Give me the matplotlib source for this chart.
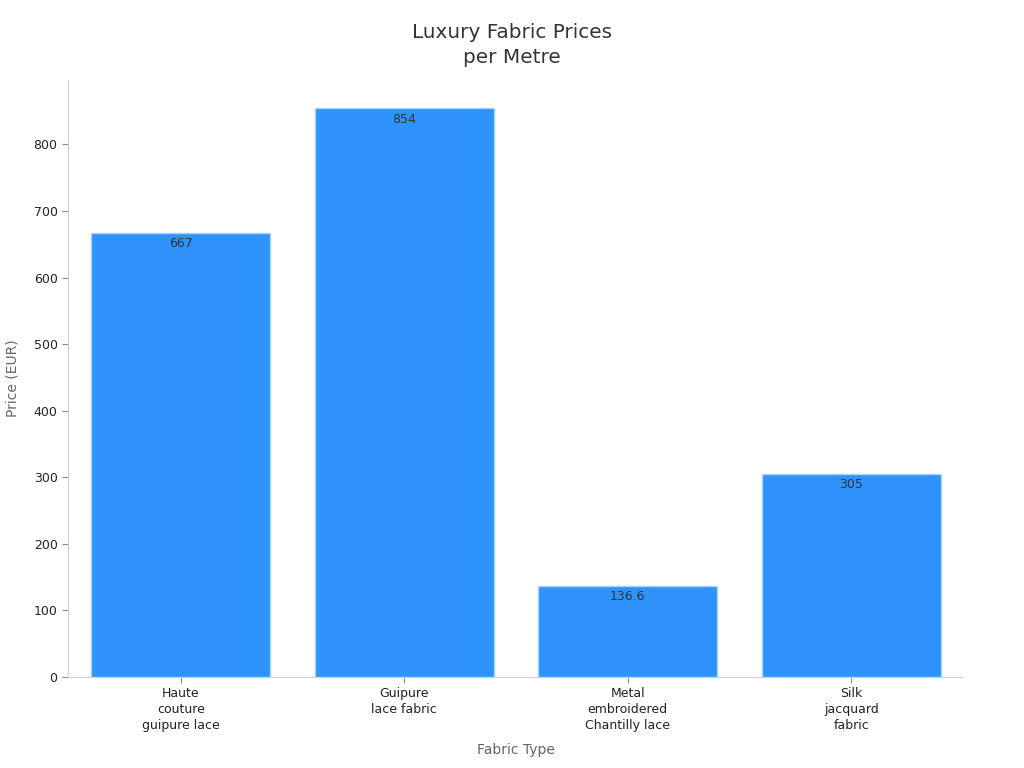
import matplotlib
matplotlib.use("Agg")
import matplotlib.pyplot as plt

fabrics = ["Haute\ncouture\nguipure lace", "Guipure\nlace fabric",
           "Metal\nembroidered\nChantilly lace", "Silk\njacquard\nfabric"]
prices = [667, 854, 136.6, 305]
value_labels = ["667", "854", "136.6", "305"]

fig = plt.figure(figsize=(10.24, 7.68), dpi=100)
ax = fig.add_axes([0.0664, 0.1185, 0.874, 0.7775])

x = range(len(fabrics))
bars = ax.bar(x, prices, width=0.8, color="#2E93FA", edgecolor="#A8D2FC", linewidth=1)

for b, lab in zip(bars, value_labels):
    ax.annotate(lab, (b.get_x() + b.get_width() / 2, b.get_height()),
                xytext=(0, -3), textcoords="offset points", ha="center", va="top",
                fontsize=9, color="#333333")

ax.set_xlim(-0.505, 3.5)
ax.set_ylim(0, 897)
ax.set_xticks(list(x))
ax.set_xticklabels(fabrics, fontsize=9, color="#222222", linespacing=1.3)
ax.set_yticks(range(0, 801, 100))
ax.tick_params(axis="y", labelsize=9, labelcolor="#222222", color="#888888", length=4)
ax.tick_params(axis="x", color="#888888", length=4, pad=3)

for s in ["top", "right"]:
    ax.spines[s].set_visible(False)
for s in ["left", "bottom"]:
    ax.spines[s].set_color("#D0D0D0")

ax.set_xlabel("Fabric Type", fontsize=10, color="#666666", labelpad=8)
ax.set_ylabel("Price (EUR)", fontsize=10, color="#666666", labelpad=10)
fig.suptitle("Luxury Fabric Prices\nper Metre", fontsize=14.4, color="#333333",
             y=0.97, linespacing=1.4)

plt.savefig("out.png", dpi=100)
